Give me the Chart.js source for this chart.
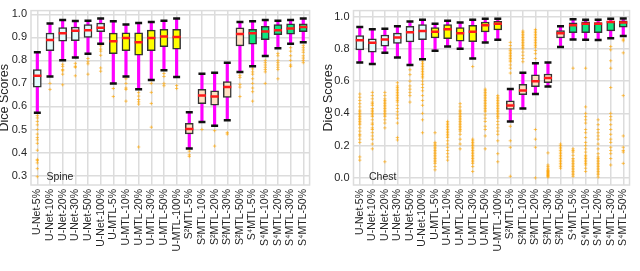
<!DOCTYPE html>
<html>
<head>
<meta charset="utf-8">
<script src="https://cdn.jsdelivr.net/npm/chart.js@4.4.0/dist/chart.umd.min.js"></script>
<style>
  html, body { margin: 0; padding: 0; background: #fff; }
  #wrap { position: relative; width: 640px; height: 271px; overflow: hidden; }
  .pane { position: absolute; top: 0; width: 320px; height: 271px; }
  #spinePane { left: 0; }
  #chestPane { left: 320px; }
</style>
</head>
<body>
<div id="wrap">
  <div class="pane" id="spinePane"><canvas id="spineChart" width="320" height="271"></canvas></div>
  <div class="pane" id="chestPane"><canvas id="chestChart" width="320" height="271"></canvas></div>
</div>
<script>
const categories = [
  "U-Net-5%", "U-Net-10%", "U-Net-20%", "U-Net-30%", "U-Net-50%", "U-Net-100%",
  "U-MTL-5%", "U-MTL-10%", "U-MTL-20%", "U-MTL-30%", "U-MTL-50%", "U-MTL-100%",
  "S\u00B2MTL-5%", "S\u00B2MTL-10%", "S\u00B2MTL-20%", "S\u00B2MTL-30%", "S\u00B2MTL-50%",
  "S\u2074MTL-5%", "S\u2074MTL-10%", "S\u2074MTL-20%", "S\u2074MTL-30%", "S\u2074MTL-50%"
];

// Spine: whisker low, Q1, median, Q3, whisker high
const spineLow    = [0.573, 0.730, 0.800, 0.812, 0.829, 0.872, 0.700, 0.730, 0.675, 0.715, 0.757, 0.728, 0.417, 0.532, 0.516, 0.540, 0.750, 0.774, 0.819, 0.853, 0.872, 0.879];
const spineQ1     = [0.684, 0.842, 0.883, 0.886, 0.900, 0.925, 0.829, 0.842, 0.822, 0.842, 0.859, 0.849, 0.481, 0.612, 0.605, 0.639, 0.863, 0.870, 0.890, 0.911, 0.914, 0.925];
const spineMedian = [0.733, 0.888, 0.918, 0.929, 0.931, 0.942, 0.883, 0.897, 0.879, 0.897, 0.904, 0.901, 0.502, 0.648, 0.643, 0.684, 0.914, 0.918, 0.925, 0.931, 0.938, 0.945];
const spineQ3     = [0.760, 0.918, 0.942, 0.945, 0.955, 0.962, 0.918, 0.920, 0.920, 0.931, 0.935, 0.935, 0.527, 0.674, 0.668, 0.708, 0.941, 0.935, 0.948, 0.955, 0.959, 0.959];
const spineHigh   = [0.835, 0.960, 0.975, 0.971, 0.972, 0.982, 0.970, 0.956, 0.962, 0.966, 0.972, 0.982, 0.575, 0.742, 0.746, 0.790, 0.966, 0.970, 0.975, 0.972, 0.975, 0.982];
const spineOutliers = [
  [0.56, 0.55, 0.535, 0.52, 0.50, 0.48, 0.465, 0.455, 0.44, 0.41, 0.37, 0.365, 0.355, 0.33, 0.295],
  [0.70, 0.674],
  [0.783, 0.774, 0.76, 0.755, 0.74, 0.694],
  [0.787, 0.774, 0.77, 0.733],
  [0.808, 0.794, 0.785, 0.74],
  [0.863, 0.849, 0.84, 0.822, 0.767, 0.753],
  [0.678, 0.643],
  [0.72, 0.70, 0.68, 0.674, 0.623],
  [0.66, 0.645, 0.63, 0.62, 0.61, 0.424],
  [0.70, 0.661, 0.613, 0.51],
  [0.743, 0.73, 0.70, 0.69],
  [0.691, 0.678],
  [0.406, 0.39, 0.383],
  [0.50],
  [0.495, 0.428],
  [0.486, 0.48],
  [0.735, 0.726, 0.696, 0.684, 0.643],
  [0.763, 0.75, 0.74, 0.72, 0.70, 0.68, 0.664, 0.623],
  [0.80, 0.79, 0.78, 0.77, 0.76, 0.75, 0.70],
  [0.83, 0.82, 0.80, 0.79, 0.78, 0.77, 0.76, 0.72],
  [0.855, 0.84, 0.82, 0.80, 0.78, 0.774],
  [0.865, 0.855, 0.845, 0.835, 0.82, 0.81, 0.80, 0.79]
];

// Chest
const chestLow    = [0.716, 0.706, 0.775, 0.746, 0.700, 0.736, 0.788, 0.814, 0.800, 0.740, 0.839, 0.857, 0.350, 0.430, 0.520, 0.566, 0.812, 0.858, 0.857, 0.855, 0.865, 0.879];
const chestQ1     = [0.794, 0.780, 0.817, 0.833, 0.843, 0.857, 0.868, 0.863, 0.847, 0.845, 0.905, 0.917, 0.425, 0.516, 0.566, 0.590, 0.867, 0.900, 0.900, 0.900, 0.911, 0.935];
const chestMedian = [0.853, 0.837, 0.858, 0.871, 0.903, 0.910, 0.906, 0.921, 0.897, 0.906, 0.946, 0.956, 0.449, 0.541, 0.599, 0.619, 0.897, 0.946, 0.956, 0.956, 0.966, 0.963];
const chestQ3     = [0.882, 0.862, 0.886, 0.897, 0.940, 0.950, 0.931, 0.951, 0.931, 0.946, 0.966, 0.970, 0.478, 0.580, 0.639, 0.644, 0.913, 0.961, 0.968, 0.963, 0.972, 0.974];
const chestHigh   = [0.935, 0.921, 0.925, 0.940, 0.970, 0.980, 0.956, 0.974, 0.964, 0.980, 0.986, 0.986, 0.551, 0.652, 0.710, 0.716, 0.940, 0.983, 0.981, 0.980, 0.986, 0.988];
const chestOutliers = [
  [0.52, 0.50, 0.48, 0.46, 0.44, 0.42, 0.41, 0.40, 0.39, 0.38, 0.37, 0.36, 0.35, 0.34, 0.33, 0.31, 0.29, 0.27, 0.26, 0.24, 0.22, 0.13, 0.11],
  [0.53, 0.51, 0.49, 0.47, 0.46, 0.45, 0.43, 0.42, 0.41, 0.40, 0.39, 0.38, 0.36, 0.34, 0.33, 0.31, 0.30, 0.28, 0.26, 0.24, 0.21, 0.18],
  [0.53, 0.51, 0.49, 0.48, 0.47, 0.46, 0.45, 0.44, 0.43, 0.42, 0.41, 0.40, 0.39, 0.38, 0.36, 0.34, 0.31, 0.10],
  [0.59, 0.57, 0.56, 0.55, 0.54, 0.53, 0.52, 0.51, 0.50, 0.49, 0.48, 0.47, 0.45, 0.43, 0.41, 0.39, 0.37, 0.34, 0.25, 0.235],
  [0.67, 0.64, 0.60, 0.57, 0.55, 0.53, 0.51, 0.47],
  [0.72, 0.71, 0.70, 0.69, 0.68, 0.67, 0.66, 0.65, 0.64, 0.63, 0.62, 0.60, 0.58, 0.56, 0.54, 0.51, 0.48, 0.45, 0.40, 0.36, 0.28],
  [0.28, 0.22, 0.21, 0.20, 0.19, 0.18, 0.17, 0.16, 0.15, 0.14, 0.13, 0.12, 0.11, 0.10, 0.09, 0.07, 0.05],
  [0.35, 0.34, 0.33, 0.32, 0.31, 0.30, 0.29, 0.28, 0.27, 0.26, 0.25, 0.23, 0.21, 0.19, 0.17, 0.15, 0.13, 0.11],
  [0.46, 0.44, 0.42, 0.41, 0.40, 0.39, 0.38, 0.37, 0.36, 0.35, 0.34, 0.33, 0.32, 0.31, 0.30, 0.29, 0.27, 0.24, 0.21, 0.18],
  [0.69, 0.24, 0.23, 0.22, 0.21, 0.20, 0.19, 0.18, 0.17, 0.16, 0.15, 0.14, 0.13, 0.12, 0.11, 0.10, 0.09, 0.07, 0.04],
  [0.55, 0.54, 0.53, 0.52, 0.51, 0.50, 0.49, 0.48, 0.47, 0.46, 0.45, 0.44, 0.43, 0.42, 0.41, 0.39, 0.37, 0.35, 0.32, 0.30, 0.26, 0.18],
  [0.51, 0.50, 0.49, 0.48, 0.47, 0.46, 0.45, 0.44, 0.43, 0.42, 0.41, 0.40, 0.39, 0.38, 0.37, 0.35, 0.33, 0.31, 0.29, 0.27, 0.23, 0.15, 0.10],
  [0.84, 0.82, 0.80, 0.79, 0.78, 0.77, 0.76, 0.75, 0.74, 0.73, 0.72, 0.70, 0.68, 0.65, 0.32, 0.23, 0.19, 0.01],
  [0.91, 0.90, 0.89, 0.88, 0.87, 0.86, 0.85, 0.84, 0.83, 0.82, 0.81, 0.80, 0.78, 0.76, 0.74, 0.72],
  [0.92, 0.91, 0.90, 0.89, 0.88, 0.87, 0.86, 0.85, 0.84, 0.83, 0.82, 0.81, 0.79, 0.77, 0.74, 0.30, 0.24, 0.19, 0.0],
  [0.155, 0.08, 0.07, 0.06, 0.05, 0.045, 0.04, 0.035, 0.03, 0.025, 0.02, 0.015, 0.01, 0.005],
  [0.21, 0.20, 0.19, 0.18, 0.17, 0.16, 0.15, 0.14, 0.13, 0.12, 0.11, 0.10, 0.09, 0.08, 0.07, 0.06],
  [0.68, 0.18, 0.17, 0.16, 0.14, 0.12, 0.11, 0.10, 0.09, 0.08, 0.07, 0.06, 0.05, 0.04, 0.03, 0.02, 0.01],
  [0.68, 0.44, 0.40, 0.38, 0.36, 0.34, 0.30, 0.28, 0.25, 0.22, 0.20, 0.18, 0.16, 0.14, 0.13, 0.12, 0.11, 0.10, 0.09, 0.08, 0.06, 0.04],
  [0.36, 0.33, 0.30, 0.28, 0.26, 0.24, 0.21, 0.18, 0.15, 0.13, 0.12, 0.11, 0.10, 0.09, 0.08, 0.07, 0.06, 0.05, 0.04, 0.03, 0.02, 0.005],
  [0.814, 0.794, 0.726, 0.68, 0.56, 0.40, 0.38, 0.36, 0.33, 0.30, 0.27, 0.24, 0.22, 0.19, 0.17, 0.15, 0.12, 0.08],
  [0.86, 0.85, 0.775, 0.51, 0.26, 0.19, 0.17, 0.16, 0.09]
];

const FONT = "'Liberation Sans', Arial, sans-serif";
const GRID = "#dcdcdc";
const TEXT = "#262626";

function boxColor(label) {
  if (label.startsWith("U-Net")) return "#e2fbfb";
  if (label.startsWith("U-MTL")) return "#ffff00";
  if (label.startsWith("S\u00B2")) return "#fde0c2";
  return "#10e67f";
}

// light frame around the plot + panel name in the corner
const framePlugin = {
  id: "frame",
  beforeDatasetsDraw(chart, args, opts) {
    const a = chart.chartArea, ctx = chart.ctx;
    ctx.save();
    ctx.strokeStyle = GRID;
    ctx.lineWidth = 1.5;
    ctx.strokeRect(a.left, a.top, a.right - a.left, a.bottom - a.top);
    ctx.restore();
  },
  afterDatasetsDraw(chart, args, opts) {
    const a = chart.chartArea, ctx = chart.ctx;
    ctx.save();
    ctx.fillStyle = TEXT;
    ctx.font = "10.5px " + FONT;
    ctx.textBaseline = "middle";
    ctx.fillText(opts.name, a.left + 15.5, a.bottom - 7.5);
    ctx.restore();
  }
};

function boxChart(id, name, low, q1, med, q3, high, outliers, yMin, yMax, step, axisW, padRight, titlePad) {
  const outlierPts = [];
  outliers.forEach((vals, i) => vals.forEach(v => outlierPts.push({ x: categories[i], y: v })));
  const capPts = low.map((v, i) => ({ x: categories[i], y: v }))
    .concat(high.map((v, i) => ({ x: categories[i], y: v })));

  return new Chart(document.getElementById(id), {
    type: "bar",
    data: {
      labels: categories,
      datasets: [
        {
          type: "line", data: outlierPts, showLine: false,
          pointStyle: "cross", pointRadius: 1.7, pointBorderWidth: 1,
          borderColor: "rgba(255,165,0,0.6)", order: 5
        },
        {
          data: low.map((v, i) => [v, high[i]]),
          backgroundColor: "#ff00ff", barThickness: 2.5, grouped: false, order: 4
        },
        {
          data: q1.map((v, i) => [v, q3[i]]),
          backgroundColor: categories.map(boxColor),
          borderColor: "#333", borderWidth: 1.5, borderSkipped: false,
          barThickness: 8, grouped: false, order: 3
        },
        {
          type: "line", data: capPts, showLine: false,
          pointStyle: "line", pointRadius: 3.5, pointBorderWidth: 2.5,
          borderColor: "#111", order: 2
        },
        {
          type: "line", data: med.map((v, i) => ({ x: categories[i], y: v })), showLine: false,
          pointStyle: "line", pointRadius: 4, pointBorderWidth: 2.5,
          borderColor: "#ff1a1a", order: 1
        }
      ]
    },
    options: {
      responsive: false,
      animation: false,
      events: [],
      layout: { padding: { left: 0, right: padRight, top: 1, bottom: 0 } },
      plugins: { legend: { display: false }, tooltip: { enabled: false }, frame: { name: name } },
      scales: {
        x: {
          offset: true,
          grid: { offset: false, color: GRID, lineWidth: 1.5, drawTicks: false },
          border: { display: false },
          ticks: {
            autoSkip: false, minRotation: 90, maxRotation: 90, padding: 4,
            color: TEXT, font: { family: FONT, size: 10.5 }
          },
          afterFit(s) { s.height = 86; }
        },
        y: {
          min: yMin, max: yMax,
          grid: { color: GRID, lineWidth: 1.5, drawTicks: false },
          border: { display: false },
          ticks: {
            stepSize: step, includeBounds: false, padding: 4,
            color: TEXT, font: { family: FONT, size: 11 },
            callback: v => v.toFixed(1)
          },
          title: {
            display: true, text: "Dice Scores", color: TEXT,
            font: { family: FONT, size: 12.5, lineHeight: 1 },
            padding: { top: titlePad, bottom: 0 }
          },
          afterFit(s) { s.width = axisW; }
        }
      }
    },
    plugins: [framePlugin]
  });
}

boxChart("spineChart", "Spine", spineLow, spineQ1, spineMedian, spineQ3, spineHigh, spineOutliers,
  0.259, 1.016, 0.1, 31, 4, -1.5);
boxChart("chestChart", "Chest", chestLow, chestQ1, chestMedian, chestQ3, chestHigh, chestOutliers,
  -0.044, 1.037, 0.2, 33.5, 1, 2.5);
</script>
</body>
</html>
